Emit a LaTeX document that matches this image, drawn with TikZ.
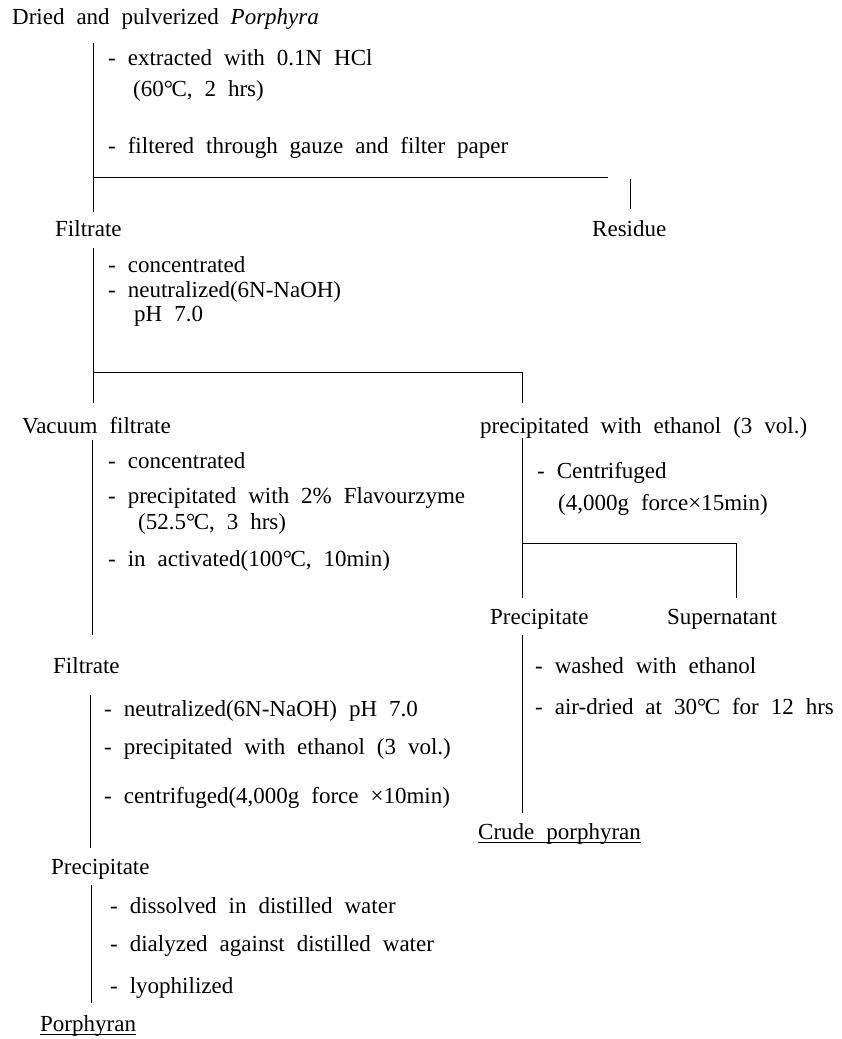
\documentclass[tikz,border=0pt]{standalone}
\usepackage{fontspec}
\setmainfont{Liberation Serif}
\newcommand\stepfont{\fontsize{23}{26}\selectfont\spaceskip=0.52em plus 0.05em\relax}
\newcommand\degc{°\kern-1.5pt C}

\begin{document}
\begin{tikzpicture}[x=1pt,y=-1pt]
\tikzstyle{every node}+=[inner sep=0pt, anchor=base west, font=\stepfont]
\tikzstyle{flowline}=[black, line width=0.8pt]
\useasboundingbox (0,0) rectangle (842,1039);
% extraction
\node (start) at (12,24) {Dried and pulverized \textit{Porphyra}};
\node (ext) at (108,65) {- extracted with 0.1N HCl};
\node (extb) at (133,96.5) {(60\degc, 2 hrs)};
\node (filt) at (108,153.5) {- filtered through gauze and filter paper};
\coordinate (a1) at (93,43);
\coordinate (a2) at (93,212);
\coordinate (a3) at (93,177);
\coordinate (a4) at (608,177);
\coordinate (r1) at (630,179);
\coordinate (r2) at (630,209);
\draw [flowline] (a1) -- (a2);
\draw [flowline] (a3) -- (a4);
\draw [flowline] (r1) -- (r2);
\node (filtrate) at (55,236.5) {Filtrate};
\node (residue) at (592,236.5) {Residue};
% neutralization
\node (conc) at (108,272) {- concentrated};
\node (neut) at (108,297) {- neutralized(6N-NaOH)};
\node (neutb) at (134,321) {pH 7.0};
\coordinate (b1) at (93,248);
\coordinate (b2) at (93,403);
\coordinate (b3) at (93,372);
\coordinate (b4) at (522,372);
\coordinate (b5) at (522,403);
\draw [flowline] (b1) -- (b2);
\draw [flowline] (b3) -- (b4) -- (b5);
\node (vacuum) at (22,433) {Vacuum filtrate};
\node (ethanol) at (480,433) {precipitated with ethanol (3 vol.)};
% left branch: enzyme
\node (concb) at (108,468) {- concentrated};
\node (flav) at (108,503) {- precipitated with 2\% Flavourzyme};
\node (flavb) at (138,529) {(52.5\degc, 3 hrs)};
\node (inact) at (108,566) {- in activated(100\degc, 10min)};
\coordinate (c1) at (92,440);
\coordinate (c2) at (92,635);
\draw [flowline] (c1) -- (c2);
% right branch: centrifuge
\node (cent) at (537,478.5) {- Centrifuged};
\node (centb) at (558,510.5) {(4,000g force×15min)};
\coordinate (d1) at (522,438);
\coordinate (d2) at (522,598);
\coordinate (d3) at (522,543);
\coordinate (d4) at (736,543);
\coordinate (d5) at (736,598);
\draw [flowline] (d1) -- (d2);
\draw [flowline] (d3) -- (d4) -- (d5);
\node (preca) at (490,624.5) {Precipitate};
\node (super) at (667,624.5) {Supernatant};
\node (wash) at (535,673.5) {- washed with ethanol};
\node (dry) at (535,714.5) {- air-dried at 30\degc{} for 12 hrs};
\coordinate (e1) at (522,635);
\coordinate (e2) at (522,813);
\draw [flowline] (e1) -- (e2);
\node (crude) at (478,839.5) {Crude porphyran};
\draw [flowline] ([yshift=-3pt]crude.base west) -- ([yshift=-3pt]crude.base east);
% left branch: second filtrate
\node (filtrateb) at (53,673.5) {Filtrate};
\node (neutc) at (104,716) {- neutralized(6N-NaOH) pH 7.0};
\node (ethb) at (104,754.5) {- precipitated with ethanol (3 vol.)};
\node (centc) at (104,803.5) {- centrifuged(4,000g force ×10min)};
\coordinate (f1) at (90,695);
\coordinate (f2) at (90,848);
\draw [flowline] (f1) -- (f2);
\node (precb) at (51,874.5) {Precipitate};
\node (diss) at (110,913.5) {- dissolved in distilled water};
\node (dial) at (110,951.5) {- dialyzed against distilled water};
\node (lyo) at (110,993.5) {- lyophilized};
\coordinate (g1) at (91,885);
\coordinate (g2) at (91,1003);
\draw [flowline] (g1) -- (g2);
\node (porph) at (40,1031) {Porphyran};
\draw [flowline] ([yshift=-3pt]porph.base west) -- ([yshift=-3pt]porph.base east);
\end{tikzpicture}
\end{document}
